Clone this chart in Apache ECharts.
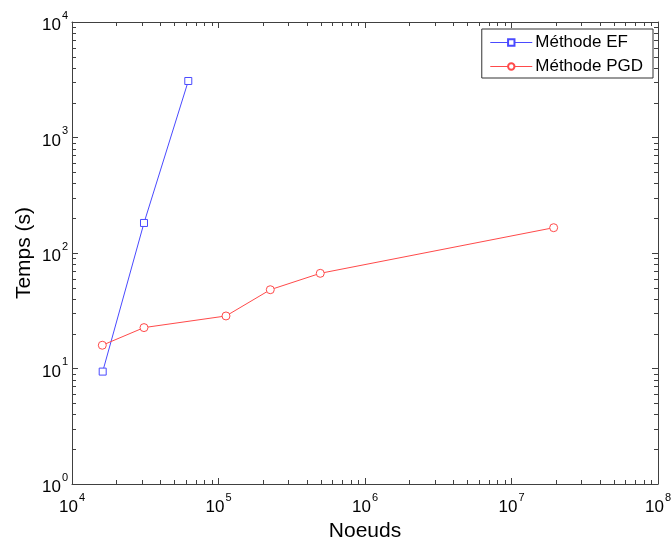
<!DOCTYPE html>
<html>
<head>
<meta charset="utf-8">
<script src="https://cdn.jsdelivr.net/npm/echarts@6/dist/echarts.min.js"></script>
<style>html,body{margin:0;padding:0;background:#fff}#c{width:671px;height:541px}</style>
</head>
<body>
<div id="c"></div>
<script>
// Data
const efNodes = [16200, 31000, 62200];
const efTime = [9.4, 182, 3085];
const pgdNodes = [16100, 31000, 112500, 225700, 495000, 19400000];
const pgdTime = [15.9, 22.6, 28.5, 48.1, 66.7, 165.6];
const xRange = [1e4, 1e8];
const yRange = [1e0, 1e4];
const seriesNames = ['Méthode EF', 'Méthode PGD'];
const xName = 'Noeuds';
const yName = 'Temps (s)';

const FONT = 'Liberation Sans, Arial, sans-serif';
const AX = '#404040';
const BLUE = '#4a4aff';
const RED = '#ff4a4a';
const chart = echarts.init(document.getElementById('c'), null, {renderer: 'canvas'});

function powLabel(v) {
  return '{b|10}{e|' + Math.round(Math.log10(v)) + '}';
}
const rich = {
  b: {fontSize: 17, fontFamily: FONT, color: '#000', lineHeight: 24, verticalAlign: 'bottom'},
  e: {fontSize: 11, fontFamily: FONT, color: '#000', lineHeight: 24, verticalAlign: 'top', padding: [0, 0, 0, 1]}
};

const baseAxis = {
  type: 'log', logBase: 10,
  axisLine: {show: true, lineStyle: {color: AX, width: 1}},
  axisTick: {show: true, inside: true, length: 6, lineStyle: {color: AX}},
  splitLine: {show: false},
  minorTick: {show: false},
  minorSplitLine: {show: false}
};

chart.setOption({
  animation: false,
  backgroundColor: '#fff',
  grid: {left: 72, right: 13, top: 22, bottom: 57, containLabel: false, outerBoundsMode: 'none'},
  xAxis: [
    Object.assign({}, baseAxis, {
      min: xRange[0], max: xRange[1], position: 'bottom',
      name: xName, nameLocation: 'middle', nameGap: 35,
      nameTextStyle: {fontSize: 21, fontFamily: FONT, color: '#000'},
      axisLabel: {formatter: powLabel, rich: rich, margin: 8, showMinLabel: true, showMaxLabel: true}
    }),
    Object.assign({}, baseAxis, {
      min: xRange[0], max: xRange[1], position: 'top',
      axisLabel: {show: false}
    })
  ],
  yAxis: [
    Object.assign({}, baseAxis, {
      min: yRange[0], max: yRange[1], position: 'left',
      name: yName, nameLocation: 'middle', nameGap: 37, nameRotate: 90, nameMoveOverlap: false,
      nameTextStyle: {fontSize: 21, fontFamily: FONT, color: '#000'},
      axisLabel: {formatter: powLabel, rich: rich, margin: 4, showMinLabel: true, showMaxLabel: true}
    }),
    Object.assign({}, baseAxis, {
      min: yRange[0], max: yRange[1], position: 'right',
      axisLabel: {show: false}
    })
  ],
  legend: {
    orient: 'vertical', right: 18, top: 29,
    backgroundColor: '#fff', borderColor: '#333', borderWidth: 1,
    padding: [5, 10, 3, 8], itemGap: 7, itemWidth: 42, itemHeight: 8,
    lineStyle: {width: 1},
    textStyle: {fontSize: 17, lineHeight: 17, fontFamily: FONT, color: '#000', padding: [0, 0, 0, -2]},
    data: seriesNames
  },
  series: [
    {
      name: seriesNames[0], type: 'line', xAxisIndex: 0, yAxisIndex: 0,
      data: efNodes.map((x, i) => [x, efTime[i]]),
      symbol: 'rect', symbolSize: 7, showSymbol: true,
      lineStyle: {color: BLUE, width: 1},
      itemStyle: {color: '#fff', borderColor: BLUE, borderWidth: 1},
      color: BLUE
    },
    {
      name: seriesNames[1], type: 'line', xAxisIndex: 0, yAxisIndex: 0,
      data: pgdNodes.map((x, i) => [x, pgdTime[i]]),
      symbol: 'circle', symbolSize: 8, showSymbol: true,
      lineStyle: {color: RED, width: 1},
      itemStyle: {color: '#fff', borderColor: RED, borderWidth: 1},
      color: RED
    }
  ]
});

// Minor (2..9) log ticks on all four sides, placed through the axis scales
function minorTicks() {
  const els = [];
  const L = 4;
  const y0 = chart.convertToPixel({yAxisIndex: 0}, yRange[0]);
  const y1 = chart.convertToPixel({yAxisIndex: 0}, yRange[1]);
  const x0 = chart.convertToPixel({xAxisIndex: 0}, xRange[0]);
  const x1 = chart.convertToPixel({xAxisIndex: 0}, xRange[1]);
  const style = {stroke: AX, lineWidth: 1};
  for (let d = xRange[0]; d < xRange[1]; d *= 10) {
    for (let k = 2; k <= 9; k++) {
      const px = Math.round(chart.convertToPixel({xAxisIndex: 0}, d * k)) + 0.5;
      els.push({type: 'line', silent: true, shape: {x1: px, y1: y0, x2: px, y2: y0 - L}, style});
      els.push({type: 'line', silent: true, shape: {x1: px, y1: y1, x2: px, y2: y1 + L}, style});
    }
  }
  for (let d = yRange[0]; d < yRange[1]; d *= 10) {
    for (let k = 2; k <= 9; k++) {
      const py = Math.round(chart.convertToPixel({yAxisIndex: 0}, d * k)) + 0.5;
      els.push({type: 'line', silent: true, shape: {x1: x0, y1: py, x2: x0 + L, y2: py}, style});
      els.push({type: 'line', silent: true, shape: {x1: x1, y1: py, x2: x1 - L, y2: py}, style});
    }
  }
  return els;
}
chart.setOption({graphic: {elements: minorTicks()}});
</script>
</body>
</html>
